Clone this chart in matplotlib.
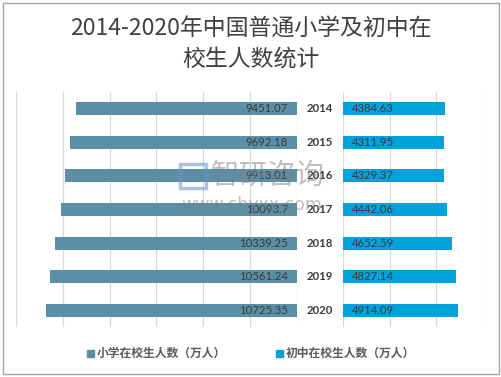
import matplotlib
matplotlib.use("Agg")
import matplotlib.pyplot as plt
from matplotlib.patches import Rectangle

years = ["2014", "2015", "2016", "2017", "2018", "2019", "2020"]
primary = [9451.07, 9692.18, 9913.01, 10093.7, 10339.25, 10561.24, 10725.35]
junior = [4384.63, 4311.95, 4329.37, 4442.06, 4652.59, 4827.14, 4914.09]
primary_labels = ["9451.07", "9692.18", "9913.01", "10093.7", "10339.25", "10561.24", "10725.35"]
junior_labels = ["4384.63", "4311.95", "4329.37", "4442.06", "4652.59", "4827.14", "4914.09"]
series_names = ["小学在校生人数（万人）", "初中在校生人数（万人）"]
title = "2014-2020年中国普通小学及初中在\n校生人数统计"

c_left = "#5B8FA6"
c_right = "#00A2DB"
txt = "#3A3A3A"
cjk = ["Noto Sans CJK SC", "DejaVu Sans"]

W, H = 502, 377
fig = plt.figure(figsize=(W / 100, H / 100), dpi=100)

def fx(px):
    return px / W

def fy(py):
    return 1 - py / H

# outer frame
fig.patches.append(Rectangle((fx(3), fy(374)), fx(496), 371 / H, transform=fig.transFigure,
                             fill=False, edgecolor="#A6A6A6", linewidth=1.0))

top, bot = 92, 327
axL = fig.add_axes([fx(16), fy(bot), fx(297 - 16), (bot - top) / H])
axR = fig.add_axes([fx(343), fy(bot), fx(483 - 343), (bot - top) / H])

ypos = list(range(len(years)))
for ax in (axL, axR):
    ax.set_ylim(len(years) - 0.5, -0.5)
    for s in ax.spines.values():
        s.set_visible(False)
    ax.tick_params(length=0, labelbottom=False, labelleft=False)
    ax.set_yticks([])
    ax.grid(axis="x", color="#D9D9D9", linewidth=0.9)
    ax.set_axisbelow(True)
    ax.patch.set_alpha(0)

axL.set_xlim(12000, 0)
axL.set_xticks(range(0, 12001, 2000))
axR.set_xlim(0, 6000)
axR.set_xticks(range(0, 6001, 2000))

bh = 0.39
axL.barh(ypos, primary, height=bh, color=c_left)
axR.barh(ypos, junior, height=bh, color=c_right)

for y, lab in zip(ypos, primary_labels):
    axL.annotate(lab, (0, y), xytext=(-9, 0), textcoords="offset pixels",
                 ha="right", va="center", fontsize=8.2, family="Lato", color=txt)
for y, lab in zip(ypos, junior_labels):
    axR.annotate(lab, (0, y), xytext=(9, 0), textcoords="offset pixels",
                 ha="left", va="center", fontsize=8.2, family="Lato", color=txt)
yt = axR.get_yaxis_transform()
for y, lab in zip(ypos, years):
    axR.text((320 - 343) / 140, y, lab, transform=yt, ha="center", va="center",
             fontsize=8.2, family="Lato", fontweight="bold", color=txt)

fig.text(0.5, fy(44), title, ha="center", va="center", fontsize=16.5, family=cjk,
         color="#404040", linespacing=1.35)

# legend
for x0, name, c in [(87, series_names[0], c_left), (276, series_names[1], c_right)]:
    fig.patches.append(Rectangle((fx(x0), fy(357)), fx(7), 7 / H, transform=fig.transFigure,
                                 color=c))
    fig.text(fx(x0 + 10), fy(353.5), name, ha="left", va="center", fontsize=8.5,
             family=cjk, fontweight="bold", color="#595959")

# watermark
fig.text(fx(211), fy(176), "智研咨询", ha="left", va="center", fontsize=20.5, family=cjk,
         color="#7F7F7F", alpha=0.5)
fig.text(fx(252), fy(205), "www.chyxx.com", ha="center", va="center", fontsize=12.5,
         family="DejaVu Sans", color="#7F7F7F", alpha=0.5)
fig.patches.append(Rectangle((fx(180), fy(188)), fx(26), 24 / H, transform=fig.transFigure,
                             fill=False, edgecolor="#6A8FC8", linewidth=2.5, alpha=0.55))

fig.savefig("out.png", dpi=100)
